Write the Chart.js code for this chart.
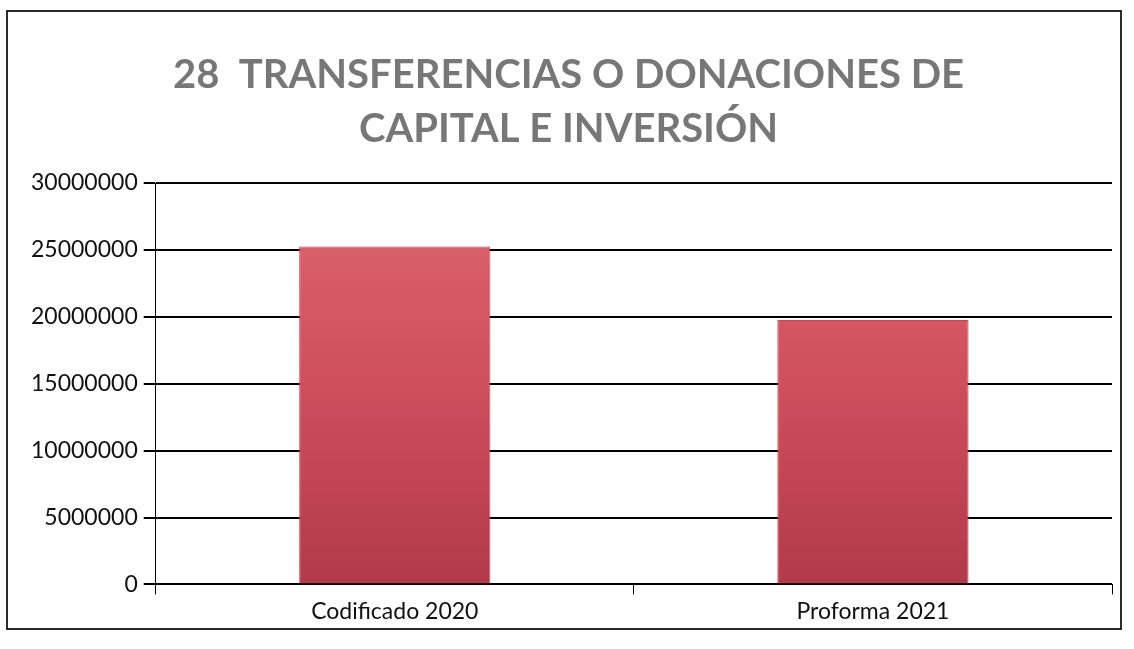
<!DOCTYPE html>
<html>
<head>
<meta charset="utf-8">
<script src="https://cdn.jsdelivr.net/npm/chart.js@4/dist/chart.umd.min.js"></script>
<style>
  body { margin: 0; background: #fff; }
  #wrap { position: absolute; left: 6px; top: 10px; width: 1112px; height: 616px; border: 2px solid #2a2a2a; background: #fff; }
</style>
</head>
<body>
<div id="wrap"><canvas id="myChart"></canvas></div>
<script>
// values
var categories = ['Codificado 2020', 'Proforma 2021'];
var montos = [25260000, 19760000];
var titleLines = ['28  TRANSFERENCIAS O DONACIONES DE', 'CAPITAL E INVERSIÓN'];

function barFill(context) {
    var area = context.chart.chartArea;
    if (!area) return '#cc4d5a';
    var g = context.chart.ctx.createLinearGradient(0, area.top, 0, area.bottom);
    g.addColorStop(0, '#dc6670');
    g.addColorStop(0.5, '#cf4f5c');
    g.addColorStop(1, '#b23a4a');
    return g;
}

var ctx = document.getElementById('myChart').getContext('2d');
var myChart = new Chart(ctx, {
    type: 'bar',
    data: {
        labels: categories,
        datasets: [{
            label: 'Monto',
            data: montos,
            backgroundColor: barFill,
            borderColor: '#c24a57',
            borderWidth: 1,
            barPercentage: 0.5,
            categoryPercentage: 0.8
        }]
    },
    options: {
        responsive: true,
        maintainAspectRatio: false,
        animation: false,
        layout: { padding: { left: 17, right: 8, top: 18, bottom: 0 } },
        plugins: {
            legend: { display: false },
            tooltip: { enabled: false },
            title: {
                display: true,
                text: titleLines,
                color: '#777',
                font: { family: 'Lato', size: 40, weight: 'bold', lineHeight: 1.35 },
                padding: { top: 18, bottom: 27 }
            }
        },
        scales: {
            x: {
                grid: { drawOnChartArea: false, color: '#000', tickLength: 10, lineWidth: 1 },
                border: { display: false },
                ticks: { color: '#111', font: { family: 'Lato', size: 23 }, padding: 3 }
            },
            y: {
                min: 0,
                max: 30000000,
                ticks: {
                    stepSize: 5000000,
                    color: '#111',
                    font: { family: 'Lato', size: 23 },
                    padding: 6,
                    callback: function(v) { return String(v); }
                },
                grid: { color: '#000', lineWidth: 2, tickLength: 12 },
                border: { color: '#000', width: 1 }
            }
        }
    }
});
</script>
</body>
</html>
